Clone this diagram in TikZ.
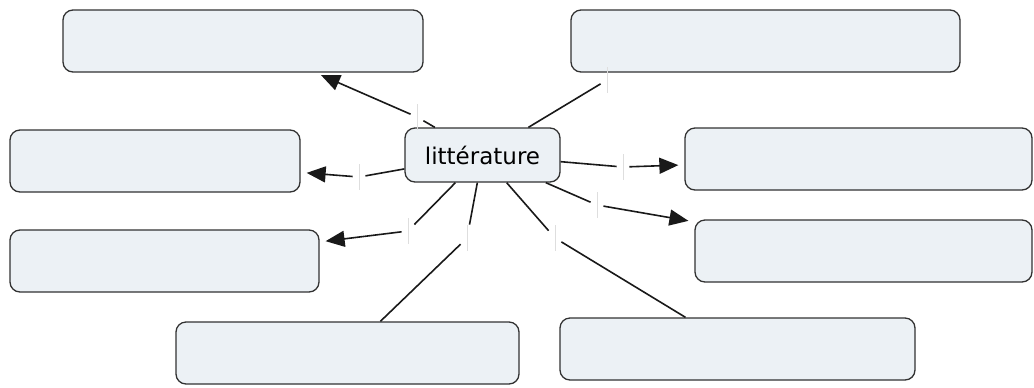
\documentclass[tikz,border=0pt]{standalone}
\usepackage{fontspec}
\setmainfont{DejaVu Sans}
\usetikzlibrary{positioning,arrows.meta}
\definecolor{boxfill}{RGB}{236,241,245}
\definecolor{boxline}{RGB}{50,50,50}
\definecolor{linkline}{RGB}{25,25,25}
\definecolor{ticklight}{RGB}{222,222,222}
\tikzset{
    concept/.style={draw=boxline, line width=0.65pt, fill=boxfill, rounded corners=5pt, minimum height=31pt, inner sep=0pt},
    linklab/.style={minimum width=6pt, minimum height=13pt, inner sep=0pt,
        path picture={\draw[ticklight, line width=0.5pt] (path picture bounding box.north) -- (path picture bounding box.south);}},
    link/.style={draw=linkline, line width=0.8pt},
    arrowlink/.style={link, -{Triangle[length=9.5pt,width=8pt]}, shorten >=3pt}
}
\begin{document}
\begin{tikzpicture}[x=0.5pt, y=-0.5pt]
    \useasboundingbox (0,0) rectangle (1034,387);

    % central concept
    \node[concept, minimum width=77.5pt, minimum height=27pt, font=\fontsize{11.5}{14}\selectfont] (lit) at (482.5,155) {littérature};

    % empty concept boxes
    \foreach \n/\x/\y/\w in {A/243/41/360, B/765.5/41/389, C/155/161/290, D/858.5/159/347,
                             E/164.5/261/309, F/863.5/251/337, G/347.5/353/343, H/737.5/349/355} {
        \node[concept, minimum width=\w*0.5pt] (\n) at (\x,\y) {};
    }

    % links with empty labels
    \foreach \l/\x/\y/\t/\s in {la/417/117/A/arrowlink, lc/359/177/C/arrowlink, ld/623/167/D/arrowlink,
                                le/408/231/E/arrowlink, lf/597/205/F/arrowlink, lg/467/238/G/link, lh/555/238/H/link} {
        \node[linklab] (\l) at (\x,\y) {};
        \draw[link] (lit) -- (\l);
        \draw[\s] (\l) -- (\t);
    }
    \node[linklab] (lb) at (607,80) {};
    \draw[link] (lit) -- (lb);

\end{tikzpicture}
\end{document}
